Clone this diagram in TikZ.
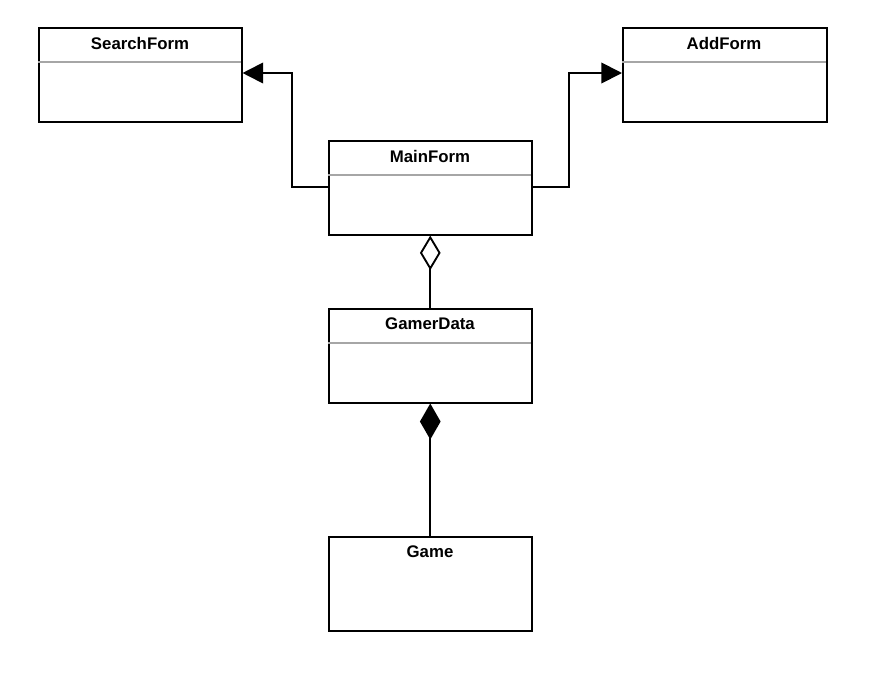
\documentclass[tikz,border=0pt]{standalone}
\usepackage{fontspec}
\setmainfont{Liberation Sans}
\usetikzlibrary{arrows.meta}
\begin{document}
\begin{tikzpicture}[x=0.75pt,y=-0.75pt,
  cls/.style={draw=black,line width=1.15pt,fill=white},
  sep/.style={draw=black!35,line width=1.15pt},
  title/.style={font=\fontsize{12.6}{14}\selectfont\bfseries,anchor=center,inner sep=0pt},
  conn/.style={draw=black,line width=1.4pt},
  gen/.style={conn,-{Triangle[length=15.5pt,width=15.5pt,fill=black]}},
  agg/.style={conn,{Diamond[length=26pt,width=15.5pt,open,fill=white]}-},
  comp/.style={conn,{Diamond[length=27pt,width=15.5pt,fill=black]}-}]
\useasboundingbox (0,0) rectangle (872,678);
% SearchForm
\node[cls,minimum width=203*0.75pt,minimum height=94*0.75pt,inner sep=0pt,anchor=north west] (search) at (38,27) {};
\draw[sep] (38,62) -- (241,62);
\node[title] (searcht) at (140,43) {SearchForm};
% AddForm
\node[cls,minimum width=204*0.75pt,minimum height=94*0.75pt,inner sep=0pt,anchor=north west] (add) at (622,27) {};
\draw[sep] (622,62) -- (826,62);
\node[title] (addt) at (724,43) {AddForm};
% MainForm
\node[cls,minimum width=203*0.75pt,minimum height=94*0.75pt,inner sep=0pt,anchor=north west] (main) at (328,140) {};
\draw[sep] (328,175) -- (531,175);
\node[title] (maint) at (430,156) {MainForm};
% GamerData
\node[cls,minimum width=203*0.75pt,minimum height=94*0.75pt,inner sep=0pt,anchor=north west] (gamer) at (328,308) {};
\draw[sep] (328,343) -- (531,343);
\node[title] (gamert) at (430,324) {GamerData};
% Game
\node[cls,minimum width=203*0.75pt,minimum height=94*0.75pt,inner sep=0pt,anchor=north west] (game) at (328,536) {};
\node[title] (gamet) at (430,552) {Game};
% connectors
\coordinate (sl) at (search.east |- 0,73);
\coordinate (al) at (add.west |- 0,73);
\draw[gen] (main.west |- 0,187) -- (292,187) -- (292,73) -- (sl);
\draw[gen] (main.east |- 0,187) -- (569,187) -- (569,73) -- (al);
\draw[agg] (main.south) -- (gamer.north);
\draw[comp] (gamer.south) -- (game.north);
\end{tikzpicture}
\end{document}
